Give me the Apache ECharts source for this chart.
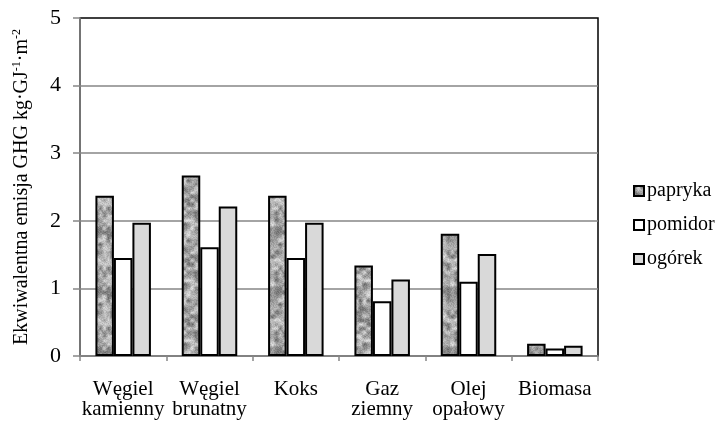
<!DOCTYPE html>
<html>
<head>
<meta charset="utf-8">
<script src="https://cdn.jsdelivr.net/npm/echarts@6/dist/echarts.min.js"></script>
<style>html,body{margin:0;padding:0;background:#fff}#c{width:720px;height:421px}</style>
</head>
<body>
<div id="c"></div>
<script>
var categories = ['Węgiel\nkamienny', 'Węgiel\nbrunatny', 'Koks', 'Gaz\nziemny', 'Olej\nopałowy', 'Biomasa'];
var papryka = [2.37, 2.67, 2.37, 1.34, 1.81, 0.18];
var pomidor = [1.45, 1.61, 1.45, 0.81, 1.10, 0.11];
var ogorek = [1.97, 2.21, 1.97, 1.13, 1.51, 0.15];
var yTicks = [0, 1, 2, 3, 4, 5];

// granite-like texture (deterministic hash, styling only)
function makeTexture() {
  var s = 60, cell = 4, ctx, cv = document.createElement('canvas');
  cv.width = s; cv.height = s;
  ctx = cv.getContext('2d');
  var img = ctx.createImageData(s, s);
  function h(x, y) {
    var v = Math.sin(x * 12.9898 + y * 78.233) * 43758.5453;
    return v - Math.floor(v);
  }
  var n = s / cell;
  function lattice(i, j) { return h(((i % n) + n) % n, ((j % n) + n) % n); }
  function smooth(t) { return t * t * (3 - 2 * t); }
  function vnoise(x, y) {
    var gx = x / cell, gy = y / cell, i = Math.floor(gx), j = Math.floor(gy);
    var fx = smooth(gx - i), fy = smooth(gy - j);
    var a = lattice(i, j), b = lattice(i + 1, j), c = lattice(i, j + 1), d = lattice(i + 1, j + 1);
    return (a * (1 - fx) + b * fx) * (1 - fy) + (c * (1 - fx) + d * fx) * fy;
  }
  for (var y = 0; y < s; y++) {
    for (var x = 0; x < s; x++) {
      var v = vnoise(x, y) * 0.75 + h(x + 7, y + 3) * 0.25;
      var g = Math.round(95 + v * 140);
      g = Math.max(85, Math.min(235, g));
      var i = (y * s + x) * 4;
      img.data[i] = g; img.data[i + 1] = g; img.data[i + 2] = g; img.data[i + 3] = 255;
    }
  }
  ctx.putImageData(img, 0, 0);
  return cv;
}
var tex = makeTexture();

var chart = echarts.init(document.getElementById('c'), null, {renderer: 'canvas'});
var font = '"Liberation Serif", "Times New Roman", serif';
chart.setOption({
  animation: false,
  textStyle: {fontFamily: font},
  grid: {left: 80, right: 122, top: 18, bottom: 65, show: true, borderColor: '#000', borderWidth: 1.5, backgroundColor: 'transparent'},
  legend: {
    orient: 'vertical', left: 628, top: 176, itemWidth: 10, itemHeight: 10, itemGap: 14,
    icon: 'rect',
    textStyle: {fontFamily: font, fontSize: 20, color: '#000', padding: [0, 0, 0, -2]},
    data: ['papryka', 'pomidor', 'ogórek']
  },
  xAxis: {
    type: 'category', data: categories,
    axisLine: {lineStyle: {color: '#868686', width: 1.5}},
    axisTick: {show: true, length: 5, lineStyle: {color: '#868686', width: 1.5}},
    axisLabel: {color: '#000', fontSize: 21, fontFamily: font, lineHeight: 20, margin: 23, interval: 0}
  },
  yAxis: {
    type: 'value', min: yTicks[0], max: yTicks[yTicks.length - 1], interval: 1,
    name: 'Ekwiwalentna emisja GHG kg·GJ{s|-1}·m{s|-2}',
    nameLocation: 'middle', nameGap: 48, nameRotate: 90,
    nameTextStyle: {color: '#000', fontSize: 20, fontFamily: font, rich: {s: {fontSize: 12, verticalAlign: 'top', padding: [0, 0, 9, 0], fontFamily: font}}},
    axisLine: {show: true, lineStyle: {color: '#868686', width: 1.5}},
    axisTick: {show: true, length: 7, lineStyle: {color: '#868686', width: 1.5}},
    splitLine: {showMaxLine: false, lineStyle: {color: '#868686', width: 1.5}},
    axisLabel: {color: '#000', fontSize: 22, fontFamily: font, margin: 19}
  },
  series: [
    {name: 'papryka', type: 'bar', data: papryka, barWidth: 18.5, barGap: '0%',
     itemStyle: {color: {image: tex, repeat: 'repeat'}, borderColor: '#000', borderWidth: 2}},
    {name: 'pomidor', type: 'bar', data: pomidor, barWidth: 18.5, barGap: '0%',
     itemStyle: {color: '#fff', borderColor: '#000', borderWidth: 2}},
    {name: 'ogórek', type: 'bar', data: ogorek, barWidth: 18.5, barGap: '0%',
     itemStyle: {color: '#d9d9d9', borderColor: '#000', borderWidth: 2}}
  ]
});
</script>
</body>
</html>
